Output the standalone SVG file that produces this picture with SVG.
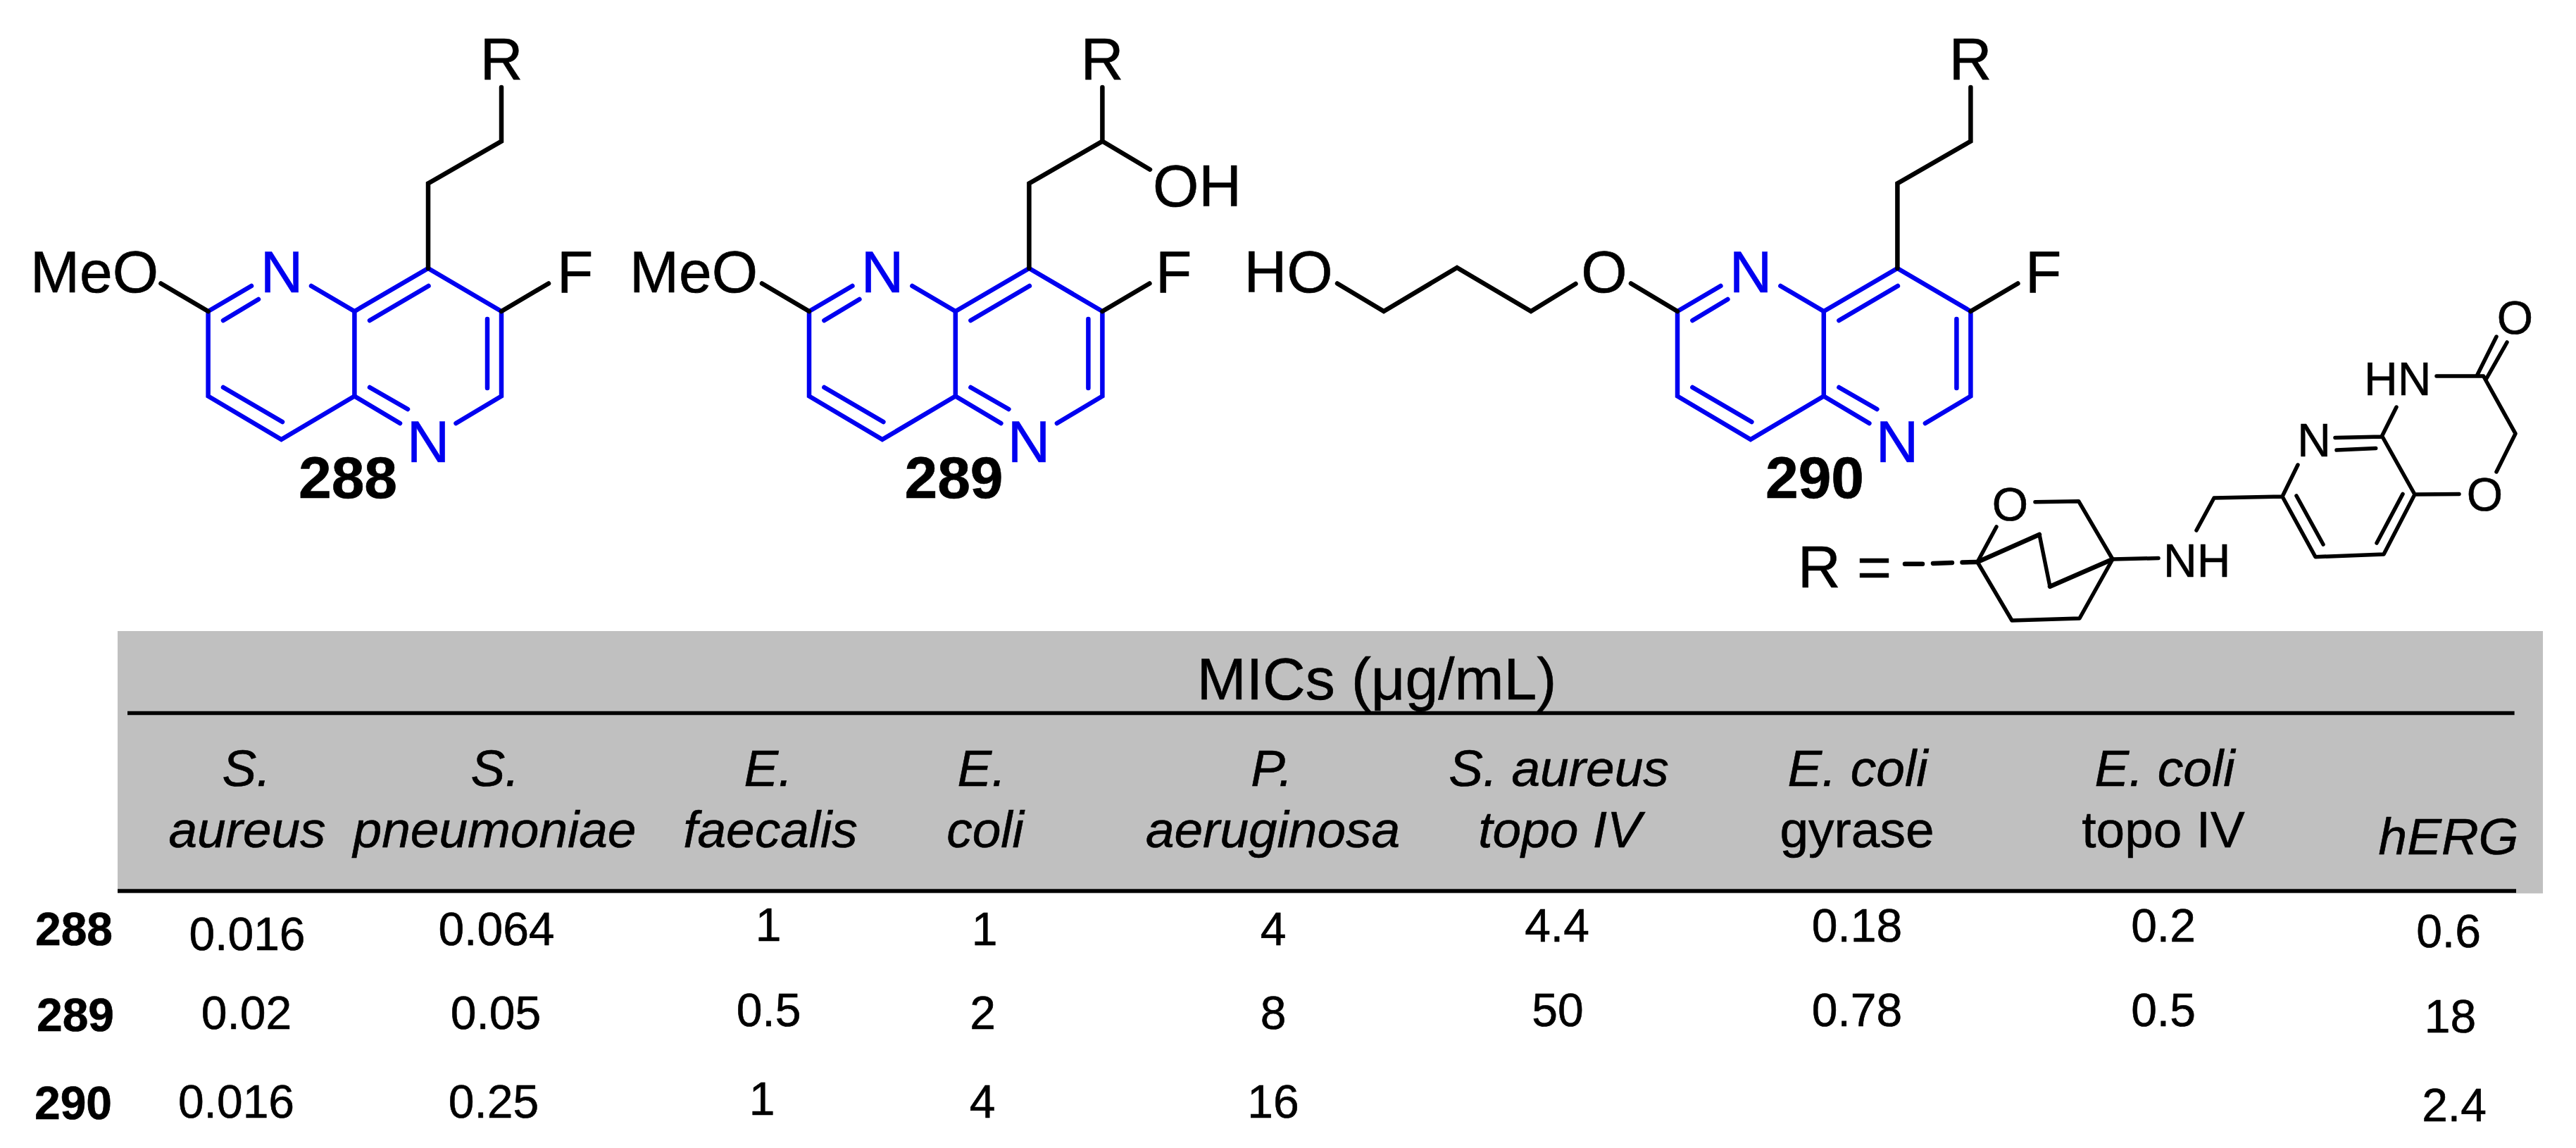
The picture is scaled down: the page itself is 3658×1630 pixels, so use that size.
<svg xmlns="http://www.w3.org/2000/svg" width="3658" height="1630" viewBox="0 0 3658 1630">
<style>
text{font-family:"Liberation Sans",Arial,sans-serif;fill:#000;stroke:#000;stroke-width:.6}
.a{font-size:84px}
.n{font-size:84px;fill:#0000f0;stroke:#0000f0}
.b{font-size:84px;font-weight:bold;text-anchor:middle}
.s{font-size:66px}
.h{font-size:73px;text-anchor:middle}
.i{font-style:italic}
.v{font-size:66px;text-anchor:middle}
.r{font-size:66px;font-weight:bold;text-anchor:middle}
.k{fill:none;stroke:#000;stroke-width:6.5;stroke-linecap:round;stroke-linejoin:miter}
.f{fill:none;stroke:#000;stroke-width:5.5;stroke-linecap:round;stroke-linejoin:round}
.t{fill:none;stroke:#000;stroke-width:6.5;stroke-linecap:round}
.u{fill:none;stroke:#0000f0;stroke-width:6.5;stroke-linecap:round;stroke-linejoin:miter}
</style>
<defs>
<g id="core" class="u">
<path d="M357 406L295.6 442V562.5L399.5 624L503.4 562.5V442L608 381L712 442V562.5L647.5 601"/>
<path d="M442 406L503.4 442M503.4 562.5L568 601"/>
<path d="M367 425L317 455M525 455L608.5 406M692 453V551M317 550L401 599M525 550L579 581"/>
</g>
</defs>
<rect id="table-band" x="167" y="896" width="3444" height="372.5" fill="#c0c0c0"/>
<g id="compound-288">
<use href="#core"/>
<path class="k" d="M608 381V260.5L712 200.5V124M295.6 442L228.5 402.5M712 442L779 402.5"/>
<text class="a" x="712" y="113" text-anchor="middle">R</text>
<text class="a" x="43" y="415">MeO</text>
<text class="n" x="400" y="415" text-anchor="middle">N</text>
<text class="n" x="608" y="656" text-anchor="middle">N</text>
<text class="a" x="791" y="415">F</text>
<text class="b" x="494" y="707">288</text>
</g>
<g id="compound-289">
<use href="#core" transform="translate(853.4 0)"/>
<path class="k" d="M1461.4 381V260.5L1565.4 200.5V124M1565.4 200.5L1633 240.7M1149 442L1082 402.5M1565.4 442L1632.4 402.5"/>
<text class="a" x="1565" y="113" text-anchor="middle">R</text>
<text class="a" x="1637" y="293">OH</text>
<text class="a" x="894" y="415">MeO</text>
<text class="n" x="1253" y="415" text-anchor="middle">N</text>
<text class="n" x="1461" y="656" text-anchor="middle">N</text>
<text class="a" x="1641" y="415">F</text>
<text class="b" x="1354.5" y="707">289</text>
</g>
<g id="compound-290">
<use href="#core" transform="translate(2086.4 0)"/>
<path class="k" d="M2694.4 381V260.5L2798.4 200.5V124M2382 442L2316 402.5M2237.5 403L2174 442L2069 380L1965 442L1899 402.5M2798.4 442L2865.4 402.5"/>
<text class="a" x="2798" y="113" text-anchor="middle">R</text>
<text class="a" x="1766.5" y="415">HO</text>
<text class="a" x="2278" y="415" text-anchor="middle">O</text>
<text class="n" x="2486" y="415" text-anchor="middle">N</text>
<text class="n" x="2694" y="656" text-anchor="middle">N</text>
<text class="a" x="2876" y="415">F</text>
<text class="b" x="2577" y="707">290</text>
</g>
<g id="r-group">
<text class="a" x="2553" y="834">R =</text>
<path class="k" d="M2705 800.7H2730M2745 800L2772 799M2786.5 798.5L2808 798"/>
<path class="f" d="M2808 798L2835 748M2890 712.7L2951.7 711.7L3000 794L2953 878L2857 881L2808 798M2896 759L2911 832.7M3000 794L3065 792.5M3119 753L3144 707L3241 705L3263 660M3241 705L3288 790.7L3385 787L3429 702L3382.5 619L3403 578M3382.5 620L3316 621.4M3373.7 636.4L3318 639M3261 704L3299 773M3412 701.4L3375 771M3429 702L3492 701.4M3545 670L3572 615.7L3526.6 534L3460 534M3545 478L3518 532M3560 486L3530 539"/>
<path class="t" d="M2808 798L2896 759M2911 832.7L3000 794"/>
<text class="s" x="3571.5" y="474" text-anchor="middle">O</text>
<text class="s" x="3357" y="561">HN</text>
<text class="s" x="3528.5" y="725" text-anchor="middle">O</text>
<text class="s" x="3286" y="648" text-anchor="middle">N</text>
<text class="s" x="3072" y="819">NH</text>
<text class="s" x="2854.5" y="739" text-anchor="middle">O</text>
</g>
<g id="table">
<path d="M181 1012.5H3570.6M167 1265H3573" fill="none" stroke="#000" stroke-width="5.6"/>
<text class="a" x="1955" y="993" text-anchor="middle">MICs (μg/mL)</text>
<g class="i">
<text class="h" x="350" y="1115.5">S.</text><text class="h" x="351" y="1203">aureus</text>
<text class="h" x="703" y="1115.5">S.</text><text class="h" x="702.5" y="1203">pneumoniae</text>
<text class="h" x="1091" y="1115.5">E.</text><text class="h" x="1094" y="1203">faecalis</text>
<text class="h" x="1394" y="1115.5">E.</text><text class="h" x="1399" y="1203">coli</text>
<text class="h" x="1806" y="1115.5">P.</text><text class="h" x="1807.5" y="1203">aeruginosa</text>
<text class="h" x="2213.5" y="1115.5">S. aureus</text><text class="h" x="2215" y="1203">topo IV</text>
<text class="h" x="2638" y="1115.5">E. coli</text>
<text class="h" x="3074" y="1115.5">E. coli</text>
<text class="h" x="3477" y="1212.5">hERG</text>
</g>
<text class="h" x="2637" y="1203">gyrase</text>
<text class="h" x="3072" y="1203">topo IV</text>
<text class="r" x="105" y="1342">288</text>
<text class="v" x="351" y="1349">0.016</text>
<text class="v" x="705" y="1342">0.064</text>
<text class="v" x="1091" y="1336">1</text>
<text class="v" x="1398" y="1342">1</text>
<text class="v" x="1808" y="1342">4</text>
<text class="v" x="2211" y="1337">4.4</text>
<text class="v" x="2637" y="1337">0.18</text>
<text class="v" x="3072" y="1337">0.2</text>
<text class="v" x="3477" y="1345">0.6</text>
<text class="r" x="107" y="1464">289</text>
<text class="v" x="350" y="1461">0.02</text>
<text class="v" x="704" y="1461">0.05</text>
<text class="v" x="1091.5" y="1456.5">0.5</text>
<text class="v" x="1395.5" y="1461">2</text>
<text class="v" x="1808" y="1461">8</text>
<text class="v" x="2212" y="1456.5">50</text>
<text class="v" x="2637" y="1456.5">0.78</text>
<text class="v" x="3072" y="1456.5">0.5</text>
<text class="v" x="3479.5" y="1465.5">18</text>
<text class="r" x="104" y="1589">290</text>
<text class="v" x="335.5" y="1587">0.016</text>
<text class="v" x="701" y="1587">0.25</text>
<text class="v" x="1082" y="1583">1</text>
<text class="v" x="1395" y="1587">4</text>
<text class="v" x="1808" y="1587">16</text>
<text class="v" x="3485" y="1592">2.4</text>
</g>
</svg>
